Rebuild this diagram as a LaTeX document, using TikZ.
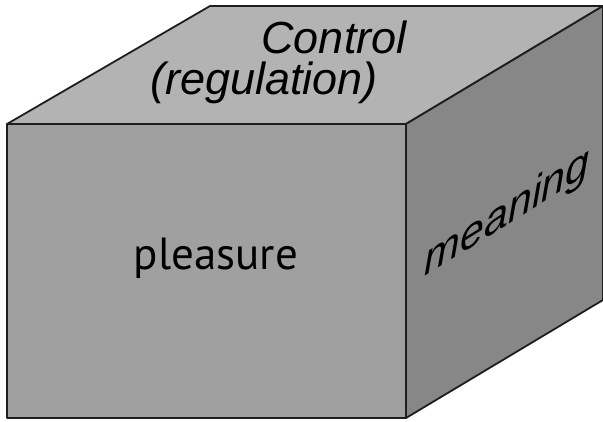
\documentclass[tikz,border=0pt]{standalone}
\usepackage{fontspec}
\setmainfont{Liberation Sans}
\newfontfamily\faceFont{PT Sans}
\definecolor{frontGray}{HTML}{A0A0A0}
\definecolor{topGray}{HTML}{B3B3B3}
\definecolor{sideGray}{HTML}{878787}
\definecolor{edgeGray}{HTML}{1E1E1E}

\begin{document}
\begin{tikzpicture}[x=1pt,y=-1pt,
    face/.style={draw=edgeGray, line width=1.8pt, line join=round},
    topText/.style={font=\itshape\fontsize{45}{45}\selectfont}
  ]
      \useasboundingbox (0,0) rectangle (603,421);

      \def\cubeLeft{7}
      \def\cubeRight{406}
      \def\cubeTop{124}
      \def\cubeBottom{418}
      \def\depthX{197}
      \def\depthY{-118}

      % Faces
      \draw[face, fill=topGray]
        (\cubeLeft, \cubeTop) --
        (\cubeLeft+\depthX+6, \cubeTop+\depthY) --
        (\cubeRight+\depthX, \cubeTop+\depthY) --
        (\cubeRight, \cubeTop) -- cycle
      ;
      \draw[face, fill=sideGray]
        (\cubeRight, \cubeTop) --
        (\cubeRight+\depthX, \cubeTop+\depthY) --
        (\cubeRight+\depthX, \cubeBottom+\depthY) --
        (\cubeRight, \cubeBottom) -- cycle
      ;
      \draw[face, fill=frontGray]
        (\cubeLeft, \cubeTop) rectangle (\cubeRight, \cubeBottom)
      ;

      % Labels
      \node (pleasure) at (216, 258) {\faceFont\fontsize{45}{45}\selectfont pleasure};
      \node[topText] (control) at (334, 37) {Control};
      \node[topText] (regulation) at (264, 83) {(regulation)};
      \node[yslant=0.62, font=\itshape\fontsize{43}{43}\selectfont] (meaning) at (507, 214) {meaning};
\end{tikzpicture}
\end{document}
